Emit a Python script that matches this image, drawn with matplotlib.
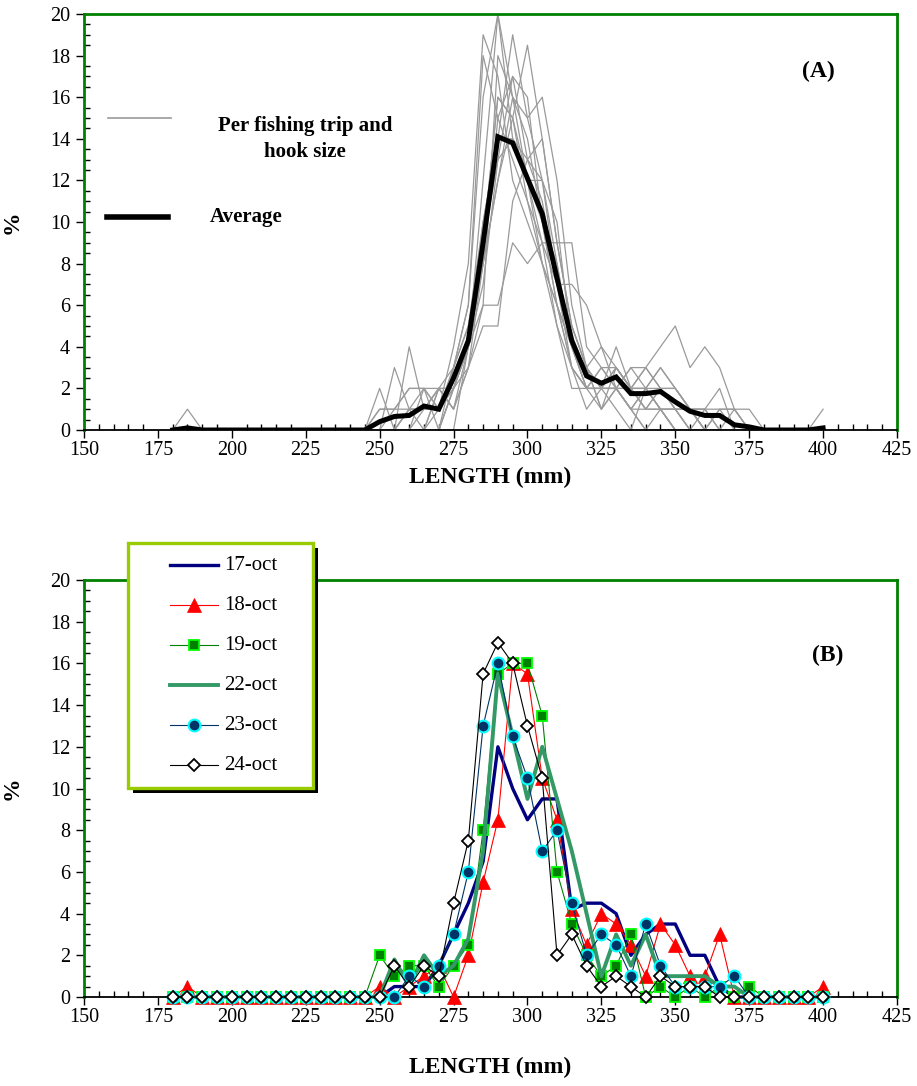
"""
Length-frequency distributions: (A) per fishing trip and hook size with
the overall average, (B) per sampling day (17-24 October).
"""
import matplotlib
matplotlib.use("Agg")
import matplotlib.pyplot as plt
from matplotlib.lines import Line2D
from matplotlib.patches import Rectangle
from matplotlib.ticker import MultipleLocator

plt.rcParams["font.family"] = ["Liberation Serif", "DejaVu Serif"]

# ------------------------------------------------------------------------------
# Data (percent of fish per 5 mm length class)
# ------------------------------------------------------------------------------
LENGTHS = [180, 185, 190, 195, 200, 205, 210, 215, 220, 225, 230, 235, 240, 245,
           250, 255, 260, 265, 270, 275, 280, 285, 290, 295, 300, 305, 310, 315,
           320, 325, 330, 335, 340, 345, 350, 355, 360, 365, 370, 375, 380, 385,
           390, 395, 400]

# panel A, individual trips (only the 245-380 mm window is non zero)
TRIP_LENGTHS = [245, 250, 255, 260, 265, 270, 275, 280, 285, 290, 295, 300, 305, 310,
                315, 320, 325, 330, 335, 340, 345, 350, 355, 360, 365, 370, 375, 380]
trip01 = [0, 0, 0, 0, 0, 0, 2, 4, 12, 20, 16, 14, 10, 8, 4, 2, 2, 2, 1, 2, 1, 0, 0, 0, 0, 0, 0, 0]
trip02 = [0, 0, 0, 0, 0, 2, 3, 6, 16, 20, 14, 12, 8, 5, 3, 2, 1, 2, 1, 0, 0, 0, 0, 0, 0, 0, 0, 0]
trip03 = [0, 0, 0, 0, 2, 1, 4, 8, 19, 17, 12, 10, 8, 6, 4, 3, 2, 1, 0, 2, 1, 0, 0, 0, 0, 0, 0, 0]
trip04 = [0, 0, 0, 0, 0, 0, 3, 6, 18, 15, 13, 11, 9, 7, 5, 3, 2, 2, 2, 1, 2, 1, 0, 0, 0, 0, 0, 0]
trip05 = [0, 0, 0, 0, 0, 0, 0, 4, 10, 14, 19, 15, 12, 8, 4, 2, 3, 3, 2, 1, 1, 0, 0, 0, 0, 0, 0, 0]
trip06 = [0, 0, 0, 0, 0, 0, 2, 4, 8, 12, 15, 18.5, 14, 9, 5, 3, 1, 2, 1, 0, 1, 1, 0, 0, 0, 0, 0, 0]
trip07 = [0, 0, 0, 0, 1, 2, 2, 4, 6, 6, 9, 8, 9, 9, 9, 4, 3, 2, 3, 2, 3, 2, 1, 1, 0, 0, 0, 0]
trip08 = [0, 0, 0, 0, 0, 1, 2, 3, 5, 5, 11, 13, 12, 7, 7, 6, 4, 2, 3, 3, 4, 5, 3, 4, 3, 1, 0, 0]
trip09 = [0, 0, 3, 1, 0, 2, 1, 4, 9, 16, 15, 12, 10, 6, 3, 2, 2, 3, 2, 2, 2, 1, 0, 1, 2, 0, 0, 0]
trip10 = [0, 0, 0, 4, 1, 2, 1, 3, 8, 15, 17, 13, 11, 7, 3, 1, 2, 4, 2, 1, 2, 1, 1, 0, 0, 0, 0, 0]
trip11 = [0, 1, 1, 1, 1, 1, 3, 5, 10, 14, 14, 12, 12, 10, 4, 2, 2, 2, 1, 2, 1, 1, 1, 0, 1, 1, 0, 0]
trip12 = [0, 1, 1, 2, 2, 0, 2, 4, 9, 13, 14, 13, 14, 9, 5, 3, 1, 3, 2, 2, 1, 1, 1, 0, 0, 0, 0, 0]
trip13 = [0, 2, 0, 1, 1, 1, 2, 4, 7, 13, 17, 16, 10, 6, 3, 2, 2, 3, 2, 3, 2, 2, 1, 1, 0, 1, 1, 0]
trip14 = [0, 0, 0, 1, 2, 1, 3, 5, 9, 16, 15, 11, 8, 6, 4, 3, 4, 3, 2, 2, 3, 2, 1, 1, 1, 0, 0, 0]
trip15 = [0, 0, 0, 1, 1, 2, 2, 4, 8, 12, 16, 12, 9, 5, 2, 2, 3, 2, 2, 3, 2, 2, 1, 0, 1, 1, 0, 0]
trip16 = [0, 0, 1, 2, 2, 2, 1, 3, 6, 18, 16, 15, 16, 12, 6, 3, 2, 2, 1, 1, 1, 0, 0, 0, 0, 0, 0, 0]
TRIPS = [trip01, trip02, trip03, trip04, trip05, trip06, trip07, trip08,
         trip09, trip10, trip11, trip12, trip13, trip14, trip15, trip16]

# two isolated single-fish trips at the extremes
stray_lo_lengths = [180, 185, 190]
stray_lo = [0, 1, 0]
stray_hi_lengths = [395, 400]
stray_hi = [0, 1]

average = [0, 0.1, 0, 0, 0, 0, 0, 0, 0, 0, 0, 0, 0, 0,
           0.4, 0.65, 0.7, 1.15, 1.0, 2.5, 4.3, 9.0, 14.1, 13.8, 12.1, 10.4, 7.3, 4.3,
           2.6, 2.25, 2.55, 1.75, 1.75, 1.85, 1.35, 0.9, 0.7, 0.7, 0.25, 0.15,
           0, 0, 0, 0, 0.1]

# panel B, per day
oct17 = [0, 0, 0, 0, 0, 0, 0, 0, 0, 0, 0, 0, 0, 0,
         0, 0.5, 0.5, 0.5, 1.5, 3.0, 4.5, 6.5, 12.0, 10.0, 8.5, 9.5, 9.5, 4.2,
         4.5, 4.5, 4.0, 2.0, 3.0, 3.5, 3.5, 2.0, 2.0, 0.5, 0, 0, 0, 0, 0, 0, 0]
oct18 = [0, 0.5, 0, 0, 0, 0, 0, 0, 0, 0, 0, 0, 0, 0,
         0.5, 0, 0.5, 1.0, 1.5, 0, 2.0, 5.5, 8.5, 16.0, 15.5, 10.5, 8.5, 4.2,
         2.5, 4.0, 3.5, 2.5, 1.0, 3.5, 2.5, 1.0, 1.0, 3.0, 0, 0, 0, 0, 0, 0, 0.5]
oct19 = [0, 0, 0, 0, 0, 0, 0, 0, 0, 0, 0, 0, 0, 0,
         2.0, 1.0, 1.5, 1.5, 0.5, 1.5, 2.5, 8.0, 15.5, 16.0, 16.0, 13.5, 6.0, 3.5,
         2.0, 1.0, 1.5, 3.0, 0, 0.5, 0, 0.5, 0, 0.5, 0, 0.5, 0, 0, 0, 0, 0]
oct22 = [0, 0, 0, 0, 0, 0, 0, 0, 0, 0, 0, 0, 0, 0,
         0, 1.8, 0.5, 2.0, 1.0, 1.5, 2.8, 7.0, 15.5, 12.5, 9.5, 12.0, 9.5, 7.0,
         4.0, 1.0, 3.0, 1.5, 3.0, 1.0, 1.0, 1.0, 1.0, 0.5, 0.5, 0, 0, 0, 0, 0, 0]
oct23 = [0, 0, 0, 0, 0, 0, 0, 0, 0, 0, 0, 0, 0, 0,
         0, 0, 1.0, 0.5, 1.5, 3.0, 6.0, 13.0, 16.0, 12.5, 10.5, 7.0, 8.0, 4.5,
         2.0, 3.0, 2.5, 1.0, 3.5, 1.5, 0.5, 0.5, 0.5, 0.5, 1.0, 0, 0, 0, 0, 0, 0]
oct24 = [0, 0, 0, 0, 0, 0, 0, 0, 0, 0, 0, 0, 0, 0,
         0, 1.5, 0.5, 1.5, 1.0, 4.5, 7.5, 15.5, 17.0, 16.0, 13.0, 10.5, 2.0, 3.0,
         1.5, 0.5, 1.0, 0.5, 0, 1.0, 0.5, 0.5, 0.5, 0, 0, 0, 0, 0, 0, 0, 0]

DAY_LABELS = ["17-oct", "18-oct", "19-oct", "22-oct", "23-oct", "24-oct"]
DAY_SERIES = [oct17, oct18, oct19, oct22, oct23, oct24]
DAY_STYLES = [
    dict(color="#000080", lw=2.4, marker="None"),
    dict(color="#FF0000", lw=0.8, marker="^", ms=10, mfc="#FF0000", mec="#FF0000", mew=0.5),
    dict(color="#008000", lw=0.8, marker="s", ms=6.5, mfc="#008000", mec="#00FF00", mew=1.3),
    dict(color="#339966", lw=2.8, marker="None"),
    dict(color="#003366", lw=0.8, marker="o", ms=8.5, mfc="#003366", mec="#00FFFF", mew=1.5),
    dict(color="#000000", lw=0.8, marker="D", ms=6, mfc="#FFFFFF", mec="#000000", mew=1.3),
]

# ------------------------------------------------------------------------------
# Layout (pixels of the 917x1086 canvas)
# ------------------------------------------------------------------------------
W, H = 917, 1086
FRAME_GREEN = "#008000"
GRAY = "#9A9A9A"


def fx(px):
    return px / W


def fy(py):
    return 1 - py / H


def style_axes(ax):
    ax.set_xlim(150, 425)
    ax.set_ylim(0, 20)
    ax.xaxis.set_major_locator(MultipleLocator(25))
    ax.xaxis.set_minor_locator(MultipleLocator(5))
    ax.yaxis.set_major_locator(MultipleLocator(2))
    ax.yaxis.set_minor_locator(MultipleLocator(0.5))
    ax.tick_params(which="major", direction="out", length=6, width=1, labelsize=14.5)
    ax.tick_params(which="minor", direction="in", length=4, width=1)
    ax.tick_params(axis="x", which="major", pad=2)
    ax.tick_params(axis="y", which="major", pad=4)
    for side in ("top", "left", "right"):
        ax.spines[side].set_color(FRAME_GREEN)
        ax.spines[side].set_linewidth(2)
    ax.spines["bottom"].set_color("black")
    ax.spines["bottom"].set_linewidth(1.3)
    ax.set_ylabel("%", fontsize=17, fontweight="bold")
    ax.yaxis.set_label_coords(-0.076, 0.5)
    lab = ax.set_xlabel("LENGTH (mm)", fontsize=17, fontweight="bold")
    lab.set_va("center")


fig = plt.figure(figsize=(W / 100, H / 100), dpi=100)
ax_a = fig.add_axes([fx(84), fy(430), (897 - 84) / W, (430 - 14) / H])
ax_b = fig.add_axes([fx(84), fy(997), (897 - 84) / W, (997 - 580) / H])

# ---- Panel A -----------------------------------------------------------------
for trip in TRIPS:
    ax_a.plot(TRIP_LENGTHS, trip, color=GRAY, lw=0.9, zorder=2)
ax_a.plot(stray_lo_lengths, stray_lo, color=GRAY, lw=0.9, zorder=2)
ax_a.plot(stray_hi_lengths, stray_hi, color=GRAY, lw=0.9, zorder=2)
ax_a.plot(LENGTHS, average, color="black", lw=3.6, zorder=3, solid_joinstyle="miter")
style_axes(ax_a)
ax_a.xaxis.set_label_coords(0.5, -0.113)
ax_a.text(0.903, 0.861, "(A)", transform=ax_a.transAxes, fontsize=17,
          fontweight="bold", ha="center", va="center")

# manual key, as in the original figure
ax_a.plot([0.029, 0.107], [0.75, 0.75], transform=ax_a.transAxes, color=GRAY, lw=1.2)
ax_a.text(0.272, 0.70, "Per fishing trip and\nhook size", transform=ax_a.transAxes,
          fontsize=15, fontweight="bold", ha="center", va="center", linespacing=1.4)
ax_a.plot([0.028, 0.103], [0.512, 0.512], transform=ax_a.transAxes, color="black", lw=4)
ax_a.text(0.155, 0.512, "Average", transform=ax_a.transAxes, fontsize=15,
          fontweight="bold", ha="left", va="center")

# ---- Panel B -----------------------------------------------------------------
for values, st in zip(DAY_SERIES, DAY_STYLES):
    ax_b.plot(LENGTHS, values, clip_on=False, zorder=3, **st)
style_axes(ax_b)
ax_b.xaxis.set_label_coords(0.5, -0.170)
ax_b.text(0.915, 0.82, "(B)", transform=ax_b.transAxes, fontsize=17,
          fontweight="bold", ha="center", va="center")

# boxed key with a hard black shadow, partly above the plot frame
box_x0, box_x1, box_y0, box_y1 = 128, 313, 543, 788
fig.add_artist(Rectangle((fx(box_x0 + 5), fy(box_y1 + 5)), (box_x1 - box_x0) / W,
                         (box_y1 - box_y0) / H, transform=fig.transFigure,
                         facecolor="black", edgecolor="black", lw=0, zorder=5))
fig.add_artist(Rectangle((fx(box_x0), fy(box_y1)), (box_x1 - box_x0) / W,
                         (box_y1 - box_y0) / H, transform=fig.transFigure,
                         facecolor="white", edgecolor="#99CC00", lw=2.4, zorder=6))
for i, (label, st) in enumerate(zip(DAY_LABELS, DAY_STYLES)):
    row_y = fy(565 + 40 * i)
    fig.add_artist(Line2D([fx(170), fx(218)], [row_y, row_y], transform=fig.transFigure,
                          color=st["color"], lw=st["lw"], zorder=7))
    if st["marker"] != "None":
        fig.add_artist(Line2D([fx(194)], [row_y], transform=fig.transFigure,
                              linestyle="None", marker=st["marker"], ms=st["ms"],
                              mfc=st["mfc"], mec=st["mec"], mew=st["mew"], zorder=8))
    fig.text(fx(224), row_y, label, fontsize=15, ha="left", va="center", zorder=8)

fig.savefig("out.png", dpi=100)
